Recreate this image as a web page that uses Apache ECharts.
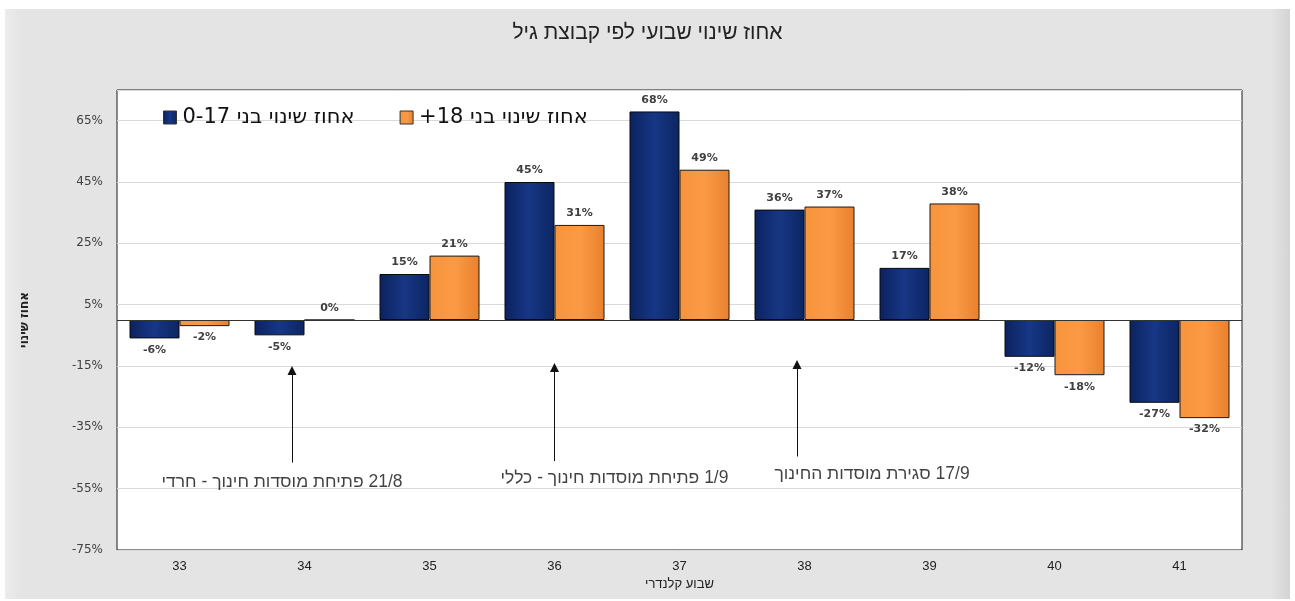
<!DOCTYPE html>
<html>
<head>
<meta charset="utf-8">
<script src="https://cdn.jsdelivr.net/npm/echarts@6/dist/echarts.min.js"></script>
<style>
html,body{margin:0;padding:0;background:#fff;}
#wrap{position:absolute;left:0;top:0;width:1295px;height:601px;background:#fff;}
#panel{position:absolute;left:5px;top:9px;width:1285px;height:590px;
  background:linear-gradient(to right,#ececec 0px,#e4e4e4 18px,#e4e4e4 1265px,#d4d4d4 1285px);}
#chart{position:absolute;left:0;top:0;width:1295px;height:601px;}
</style>
</head>
<body>
<div id="wrap"><div id="panel"></div><div id="chart"></div></div>
<script>
// ---- data ----
const weeks = ['33','34','35','36','37','38','39','40','41'];
const kids = [-6, -5, 15, 45, 68, 36, 17, -12, -27];
const adults = [-2, 0, 21, 31, 49, 37, 38, -18, -32];
const seriesNames = ['אחוז שינוי בני 0-17', 'אחוז שינוי בני 18+'];
const titleText = 'אחוז שינוי שבועי לפי קבוצת גיל';
const yName = 'אחוז שינוי';
const xName = 'שבוע קלנדרי';
// annotations: arrow x (category index), arrow tail/tip y (value), text x, text y
const noteTexts = ['21/8 פתיחת מוסדות חינוך - חרדי', '1/9 פתיחת מוסדות חינוך - כללי', '17/9 סגירת מוסדות החינוך'];
const arrowX = [0.9, 3.0, 4.94];
const arrowTail = [-46.5, -46, -44.5];
const arrowTip = [-16.5, -15.5, -14.5];
const noteX = [0.82, 3.48, 5.54];
const noteY = [-52.8, -51.7, -50.3];

const RLE = '\u202B', PDF = '\u202C';
const rtl = s => RLE + s + PDF;
const SANS = "'Liberation Sans', Arial, sans-serif";

const blueFill = {type:'linear',x:0,y:0,x2:1,y2:0,colorStops:[{offset:0,color:'#0b2260'},{offset:0.5,color:'#173785'},{offset:1,color:'#0c2562'}]};
const orangeFill = {type:'linear',x:0,y:0,x2:1,y2:0,colorStops:[{offset:0,color:'#f7943d'},{offset:0.5,color:'#fb9a45'},{offset:1,color:'#e9802c'}]};

function barData(vals){
  return vals.map(v => ({value:v, label:{position: v < 0 ? 'bottom' : 'top'}}));
}
const labelStyle = {show:true, distance:6, formatter: p => Math.round(p.value) + '%',
  fontFamily:'DejaVu Sans', fontWeight:'bold', fontSize:11, color:'#404040'};

const chart = echarts.init(document.getElementById('chart'), null, {renderer:'canvas'});
chart.setOption({
  backgroundColor:'transparent',
  animation:false,
  title:{text:titleText, left:'center', top:18,
    textStyle:{fontFamily:SANS, fontSize:21, fontWeight:'normal', color:'#222'}},
  legend:{left:158, top:102, itemWidth:13, itemHeight:13, itemGap:45, icon:'rect',
    data:seriesNames, formatter: n => rtl(n),
    itemStyle:{borderColor:'#333', borderWidth:1},
    textStyle:{fontFamily:'DejaVu Sans', fontSize:21, color:'#111', padding:[0,0,0,1]}},
  grid:{left:117, right:53, top:90, bottom:51, show:true, backgroundColor:'#fff', borderColor:'#1a1a1a', borderWidth:1},
  xAxis:[{type:'category', data:weeks, position:'bottom',
    axisLine:{onZero:false, show:false}, axisTick:{show:false},
    axisLabel:{fontFamily:SANS, fontSize:13, color:'#222', margin:10},
    name:xName, nameLocation:'middle', nameGap:27,
    nameTextStyle:{fontFamily:SANS, fontSize:13, color:'#222'}},
   {type:'value', min:-0.5, max:8.5, show:false}],
  yAxis:{type:'value', min:-75, max:75, interval:20,
    axisLine:{show:false}, axisTick:{show:false},
    axisLabel:{fontFamily:'DejaVu Sans', fontSize:12, color:'#404040', margin:14, showMaxLabel:false,
      formatter: v => v + '%'},
    splitLine:{lineStyle:{color:'#d9d9d9', width:1}},
    name:yName, nameLocation:'middle', nameGap:86, nameRotate:90,
    nameTextStyle:{fontFamily:'DejaVu Sans', fontSize:12, fontWeight:'bold', color:'#222'}},
  series:[
    {name:seriesNames[0], type:'bar', data:barData(kids), barWidth:50, barGap:'0%',
      itemStyle:{color:blueFill, borderColor:'#0a0a0a', borderWidth:1}, label:labelStyle,
      markLine:{silent:true, symbol:'none', label:{show:false},
        lineStyle:{color:'#333', width:1.2, type:'solid'}, data:[{yAxis:0}]}},
    {name:seriesNames[1], type:'bar', data:barData(adults), barWidth:50,
      itemStyle:{color:orangeFill, borderColor:'#1a1a1a', borderWidth:1}, label:labelStyle},
    {type:'lines', coordinateSystem:'cartesian2d', xAxisIndex:1, yAxisIndex:0, z:5,
      symbol:['none','triangle'], symbolSize:[0,9], silent:true,
      lineStyle:{color:'#111', width:1, opacity:1},
      data: arrowX.map((x,i) => ({coords:[[x, arrowTail[i]],[x, arrowTip[i]]]}))},
    {type:'scatter', xAxisIndex:1, yAxisIndex:0, symbolSize:0, silent:true, z:5,
      data: noteX.map((x,i) => ({value:[x, noteY[i]], name:noteTexts[i]})),
      label:{show:true, position:'inside', formatter: p => rtl(p.name),
        fontFamily:SANS, fontSize:17.5, color:'#111'}}
  ]
});
</script>
</body>
</html>
